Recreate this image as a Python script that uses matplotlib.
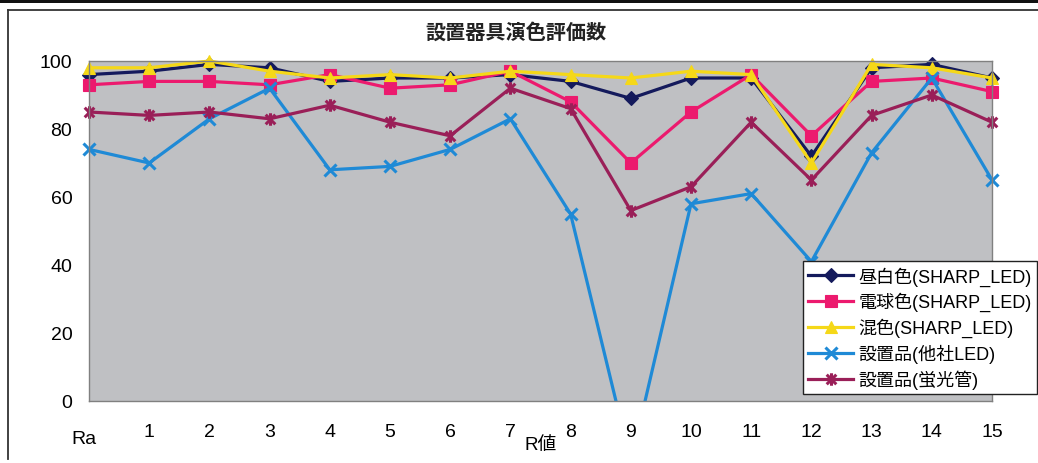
import matplotlib
matplotlib.use('Agg')
import matplotlib.pyplot as plt
from matplotlib.path import Path
from matplotlib.patches import Rectangle
from matplotlib.lines import Line2D
import matplotlib.transforms as mtransforms

plt.rcParams['font.family'] = ['Liberation Sans', 'Noto Sans CJK JP', 'DejaVu Sans']

# 演色評価数 (Ra, R1..R15)
categories = ['Ra', '1', '2', '3', '4', '5', '6', '7', '8', '9', '10', '11', '12', '13', '14', '15']
hiruhaku = [96, 97, 99, 98, 94, 95, 95, 96, 94, 89, 95, 95, 72, 98, 99, 95]
denkyu = [93, 94, 94, 93, 96, 92, 93, 97, 88, 70, 85, 96, 78, 94, 95, 91]
konshoku = [98, 98, 100, 97, 95, 96, 95, 97, 96, 95, 97, 96, 70, 99, 98, 95]
tasha_led = [74, 70, 83, 92, 68, 69, 74, 83, 55, -18, 58, 61, 41, 73, 95, 65]
keikoukan = [85, 84, 85, 83, 87, 82, 78, 92, 86, 56, 63, 82, 65, 84, 90, 82]

labels = ['昼白色(SHARP_LED)', '電球色(SHARP_LED)', '混色(SHARP_LED)',
          '設置品(他社LED)', '設置品(蛍光管)']

# Excel風のアスタリスク(×＋縦線)マーカー
star = Path([(-1, -1), (1, 1), (-1, 1), (1, -1), (0, -1.3), (0, 1.3)],
            [Path.MOVETO, Path.LINETO, Path.MOVETO, Path.LINETO, Path.MOVETO, Path.LINETO])

series = [
    (hiruhaku, '#141a5c', 'D', 7.5, 'none'),
    (denkyu, '#ec1a6e', 's', 8.5, 'none'),
    (konshoku, '#f5d818', '^', 9, 'none'),
    (tasha_led, '#1f8ad6', 'x', 9, None),
    (keikoukan, '#9a1f58', star, 9, None),
]

fig = plt.figure(figsize=(10.38, 4.64), dpi=100)
ax = fig.add_axes([89 / 1038, 1 - 402 / 464, 903 / 1038, 340 / 464])
ax.set_facecolor('#bfc0c3')

x = list(range(len(categories)))
handles = []
for vals, color, mk, ms, mec in series:
    ln, = ax.plot(x, vals, color=color, linewidth=2.3, marker=mk, markersize=ms,
                  markeredgewidth=2.2 if mec is None else 0.8,
                  markeredgecolor=color, markerfacecolor=color)
    # 端のマーカーは軸外にはみ出させ、下側(0未満)だけ切る
    ln.set_clip_path(Rectangle((-0.03, 0), 1.06, 1.2, transform=ax.transAxes))
    handles.append(ln)

ax.set_xlim(0, 15)
ax.set_ylim(0, 100)
ax.set_yticks([0, 20, 40, 60, 80, 100])
ax.set_xticks(x)
ax.set_xticklabels(categories)
ax.tick_params(axis='both', length=0, labelsize=14)
ax.tick_params(axis='y', pad=12)
ax.tick_params(axis='x', pad=16)

# "Ra" だけ少し左下へ
ra = ax.get_xticklabels()[0]
ra.set_transform(ra.get_transform() + mtransforms.ScaledTranslation(-4 / 72, -5 / 72, fig.dpi_scale_trans))

for sp in ax.spines.values():
    sp.set_color('#808080')
    sp.set_linewidth(1)

ax.set_xlabel('R値', fontsize=13.5, labelpad=-8)
fig.text(516 / 1038, 1 - 33 / 464, '設置器具演色評価数', ha='center', va='center',
         fontsize=14.5, fontweight='bold', color='#222222')

leg = fig.legend(handles, labels, loc='upper left', bbox_to_anchor=(803 / 1038, 1 - 262 / 464),
                 fontsize=13, frameon=True, fancybox=False, framealpha=1,
                 edgecolor='#222222', handlelength=2.5, handletextpad=0.3,
                 labelspacing=0.36, borderpad=0.28, borderaxespad=0)
leg.get_frame().set_linewidth(1.0)

# 外枠と上部の帯
fig.add_artist(Rectangle((0, 1 - 4 / 464), 1, 4 / 464, transform=fig.transFigure,
                         facecolor='#111111', edgecolor='none'))
fig.add_artist(Line2D([8 / 1038, 1], [1 - 10.5 / 464] * 2, transform=fig.transFigure,
                      color='#333333', linewidth=1.3))
fig.add_artist(Line2D([8 / 1038] * 2, [1 - 10.5 / 464, 1 - 460 / 464], transform=fig.transFigure,
                      color='#333333', linewidth=1.3))

fig.savefig('out.png', dpi=100, facecolor='white')
